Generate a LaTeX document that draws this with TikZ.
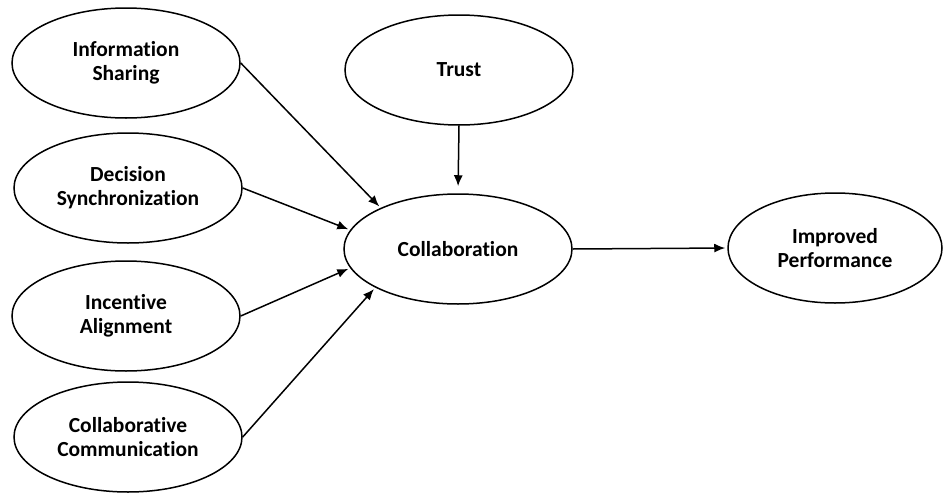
\documentclass[tikz,border=0pt]{standalone}
\usepackage{fontspec}
\setmainfont{Carlito}[Ligatures=CommonOff]
\usetikzlibrary{shapes.geometric,arrows.meta}
\tikzset{
  factor/.style={ellipse,draw,line width=1.5pt,inner sep=0pt,minimum width=228pt,minimum height=110pt,
    align=center,font=\fontsize{21.5}{24}\selectfont\bfseries},
  path/.style={line width=1.5pt,-{Latex[length=11pt,width=9pt]},shorten >=2pt}
}

\begin{document}
\begin{tikzpicture}[x=1pt,y=-1pt]
    \useasboundingbox (0,0) rectangle (946,493);

    \node [factor] (info) at (126, 63) {Information\\Sharing};
    \node [factor] (decision) at (128, 188) {Decision\\Synchronization};
    \node [factor] (incentive) at (126, 316) {Incentive\\Alignment};
    \node [factor] (communication) at (128, 437) {Collaborative\\Communication};

    \node [factor] (trust) at (459, 70) {Trust};
    \node [factor] (collaboration) at (458, 249) {Collaboration};
    \node [factor, minimum width=214pt] (performance) at (835, 248) {Improved\\Performance};

    \draw [path] (info.east) -- (collaboration.152);
    \draw [path] (decision.east) -- (collaboration.170);
    \draw [path] (incentive.east) -- (collaboration.190);
    \draw [path] (communication.east) -- (collaboration.205);
    \draw [path, shorten >=7pt] (trust.south) -- (collaboration.north);
    \draw [path] (collaboration.east) -- (performance.west);
\end{tikzpicture}
\end{document}
